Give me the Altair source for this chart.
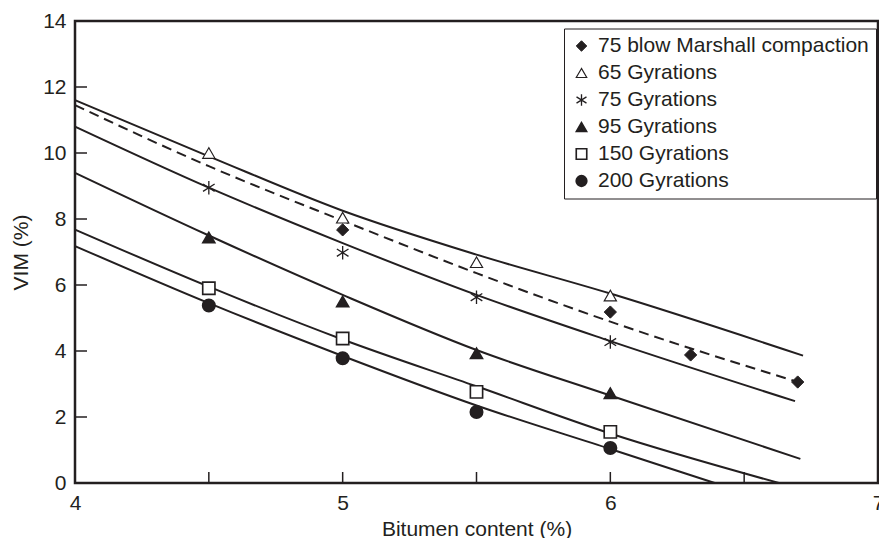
import altair as alt
import pandas as pd

INK = "#231f20"

series = ["75 blow Marshall compaction", "65 Gyrations", "75 Gyrations",
          "95 Gyrations", "150 Gyrations", "200 Gyrations"]

# measured points
pt_x = {
    "75 blow Marshall compaction": [5.0, 6.0, 6.3, 6.7],
    "65 Gyrations": [4.5, 5.0, 5.5, 6.0],
    "75 Gyrations": [4.5, 5.0, 5.5, 6.0],
    "95 Gyrations": [4.5, 5.0, 5.5, 6.0],
    "150 Gyrations": [4.5, 5.0, 5.5, 6.0],
    "200 Gyrations": [4.5, 5.0, 5.5, 6.0],
}
pt_y = {
    "75 blow Marshall compaction": [7.67, 5.18, 3.88, 3.06],
    "65 Gyrations": [10.0, 8.04, 6.69, 5.68],
    "75 Gyrations": [8.95, 6.98, 5.63, 4.27],
    "95 Gyrations": [7.44, 5.5, 3.93, 2.72],
    "150 Gyrations": [5.9, 4.38, 2.76, 1.55],
    "200 Gyrations": [5.38, 3.78, 2.15, 1.06],
}

# fitted curves
fit_x = {
    "75 blow Marshall compaction": [4.0, 4.5, 5.0, 5.5, 6.0, 6.7],
    "65 Gyrations": [4.0, 4.5, 5.0, 5.5, 6.0, 6.72],
    "75 Gyrations": [4.0, 4.5, 5.0, 5.5, 6.0, 6.69],
    "95 Gyrations": [4.0, 4.5, 5.0, 5.5, 6.0, 6.71],
    "150 Gyrations": [4.0, 4.5, 5.0, 5.5, 6.0, 6.63],
    "200 Gyrations": [4.0, 4.5, 5.0, 5.5, 6.0, 6.39],
}
fit_y = {
    "75 blow Marshall compaction": [11.45, 9.6, 7.95, 6.36, 4.89, 3.06],
    "65 Gyrations": [11.6, 9.9, 8.25, 6.92, 5.74, 3.86],
    "75 Gyrations": [10.8, 8.95, 7.27, 5.7, 4.3, 2.48],
    "95 Gyrations": [9.4, 7.5, 5.7, 4.03, 2.65, 0.73],
    "150 Gyrations": [7.68, 5.95, 4.35, 2.93, 1.5, 0.0],
    "200 Gyrations": [7.18, 5.45, 3.85, 2.35, 1.03, 0.0],
}
dashed_series = ["75 blow Marshall compaction"]

x_ticks = [4.5, 5.0, 5.5, 6.0, 6.5]
y_ticks = [2, 4, 6, 8, 10, 12]
x_labels = [4, 5, 6, 7]
y_labels = [0, 2, 4, 6, 8, 10, 12, 14]

asterisk = "M0,-1.1L0,1.1M-0.95,-0.6L0.95,0.6M-0.95,0.6L0.95,-0.6"
shapes = ["diamond", "triangle-up", asterisk, "triangle-up", "square", "circle"]
fills = [INK, "white", "transparent", INK, "white", INK]
strokes = [INK] * 6
stroke_widths = [1.0, 1.8, 2.2, 1.0, 1.8, 1.0]

pts = pd.DataFrame([
    {"series": s, "x": x, "y": y}
    for s in series for x, y in zip(pt_x[s], pt_y[s])
])
fits = pd.DataFrame([
    {"curve": s, "x": x, "y": y, "order": i, "dashed": s in dashed_series}
    for s in series for i, (x, y) in enumerate(zip(fit_x[s], fit_y[s]))
])
xt = pd.DataFrame({"x": x_ticks})
yt = pd.DataFrame({"y": y_ticks})

xscale = alt.Scale(domain=[4, 7], nice=False, zero=False)
yscale = alt.Scale(domain=[0, 14], nice=False)

FS = 21
xaxis = alt.Axis(values=x_labels, format="d", ticks=False, grid=False, domain=False,
                 labelFontSize=FS, labelPadding=9, labelColor=INK,
                 title="Bitumen content (%)", titleFontSize=FS, titleFontWeight="normal",
                 titleColor=INK, titleBaseline="alphabetic", titleY=52, labelFlush=False)
yaxis = alt.Axis(values=y_labels, format="d", ticks=False, grid=False, domain=False,
                 labelFontSize=FS, labelPadding=9, labelColor=INK,
                 title="VIM (%)", titleFontSize=FS, titleFontWeight="normal",
                 titleColor=INK, titleX=-48, titleY=231, titleBaseline="alphabetic",
                 labelFlush=False)

X = alt.X("x:Q", scale=xscale, axis=xaxis)
Y = alt.Y("y:Q", scale=yscale, axis=yaxis)

solid = alt.Chart(fits).transform_filter("!datum.dashed").mark_line(
    color=INK, strokeWidth=2, interpolate="monotone"
).encode(x=X, y=Y, detail="curve:N", order="order:Q")

dashed = alt.Chart(fits).transform_filter("datum.dashed").mark_line(
    color=INK, strokeWidth=2, interpolate="monotone", strokeDash=[10, 6]
).encode(x=X, y=Y, detail="curve:N", order="order:Q")

legend = alt.Legend(
    title=None, orient="none", legendX=489, legendY=7.5,
    strokeColor=INK, padding=7, labelFontSize=FS, labelColor=INK,
    labelOffset=6, rowPadding=5, symbolSize=110,
    labelLimit=400, fillColor="white",
)

points = alt.Chart(pts).mark_point(size=150, opacity=1).encode(
    x=X, y=Y,
    shape=alt.Shape("series:N", scale=alt.Scale(domain=series, range=shapes), legend=legend),
    fill=alt.Fill("series:N", scale=alt.Scale(domain=series, range=fills), legend=legend),
    stroke=alt.Stroke("series:N", scale=alt.Scale(domain=series, range=strokes), legend=legend),
    strokeWidth=alt.StrokeWidth("series:N", scale=alt.Scale(domain=series, range=stroke_widths), legend=legend),
)

xtick = alt.Chart(xt).mark_rule(color=INK, strokeWidth=1.5).encode(
    x=alt.X("x:Q", scale=xscale), y=alt.value(462), y2=alt.value(451)
)
ytick = alt.Chart(yt).mark_rule(color=INK, strokeWidth=1.5).encode(
    y=alt.Y("y:Q", scale=yscale), x=alt.value(0), x2=alt.value(12)
)

chart = alt.layer(solid, dashed, xtick, ytick, points).properties(
    width=803, height=462,
    padding={"left": 75, "top": 21, "right": 1, "bottom": 55},
    autosize=alt.AutoSizeParams(type="none"),
    background="white",
).configure(font="Liberation Sans").configure_view(stroke=INK, strokeWidth=2.5)

chart.save("out.html", embed_options={"renderer": "svg", "actions": False})
